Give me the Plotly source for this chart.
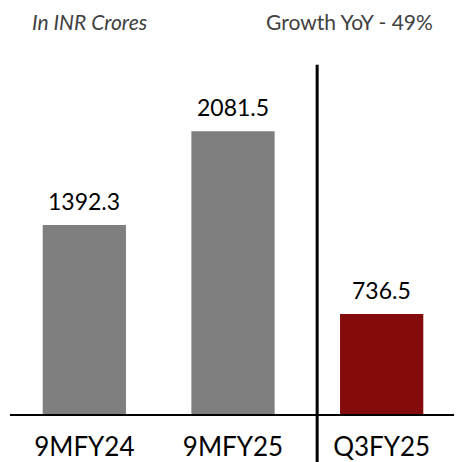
import plotly.graph_objects as go

categories = ["9MFY24", "9MFY25", "Q3FY25"]
values = [1392.3, 2081.5, 736.5]
value_labels = ["1392.3", "2081.5", "736.5"]
bar_colors = ["#7F7F7F", "#7F7F7F", "#830B0B"]
unit_note = "In INR Crores"
growth_note = "Growth YoY - 49%"

fig = go.Figure()
fig.add_trace(go.Bar(
    x=categories, y=values,
    marker=dict(color=bar_colors, line=dict(width=0)),
    hoverinfo="skip",
))

for c, v, t in zip(categories, values, value_labels):
    fig.add_annotation(x=c, y=v, text=t, xref="x", yref="y",
                       showarrow=False, yanchor="bottom", yshift=8,
                       font=dict(family="Lato", size=23, color="#000000"))

fig.add_shape(type="line", xref="x", yref="paper",
              x0=1.566, x1=1.566, y0=-0.12, y1=0.86,
              line=dict(color="#000000", width=3))

fig.add_annotation(text=unit_note, xref="paper", yref="paper",
                   x=0.045, y=0.966, xanchor="left", yanchor="middle",
                   showarrow=False,
                   font=dict(family="Lato", size=21, color="#404040", style="italic"))
fig.add_annotation(text=growth_note, xref="paper", yref="paper",
                   x=0.953, y=0.966, xanchor="right", yanchor="middle",
                   showarrow=False,
                   font=dict(family="Lato", size=21, color="#404040"))

fig.update_layout(
    width=454, height=454,
    margin=dict(l=2, r=6, t=0, b=46),
    paper_bgcolor="white", plot_bgcolor="white",
    bargap=0.44,
    showlegend=False,
    xaxis=dict(showline=True, linecolor="#000000", linewidth=2,
               ticks="", showgrid=False, zeroline=False,
               ticklabelstandoff=9,
               tickfont=dict(family="Lato", size=26, color="#000000"),
               fixedrange=True),
    yaxis=dict(range=[0, 2989], visible=False, showgrid=False,
               zeroline=False, fixedrange=True),
)

fig.write_html("out.html")
